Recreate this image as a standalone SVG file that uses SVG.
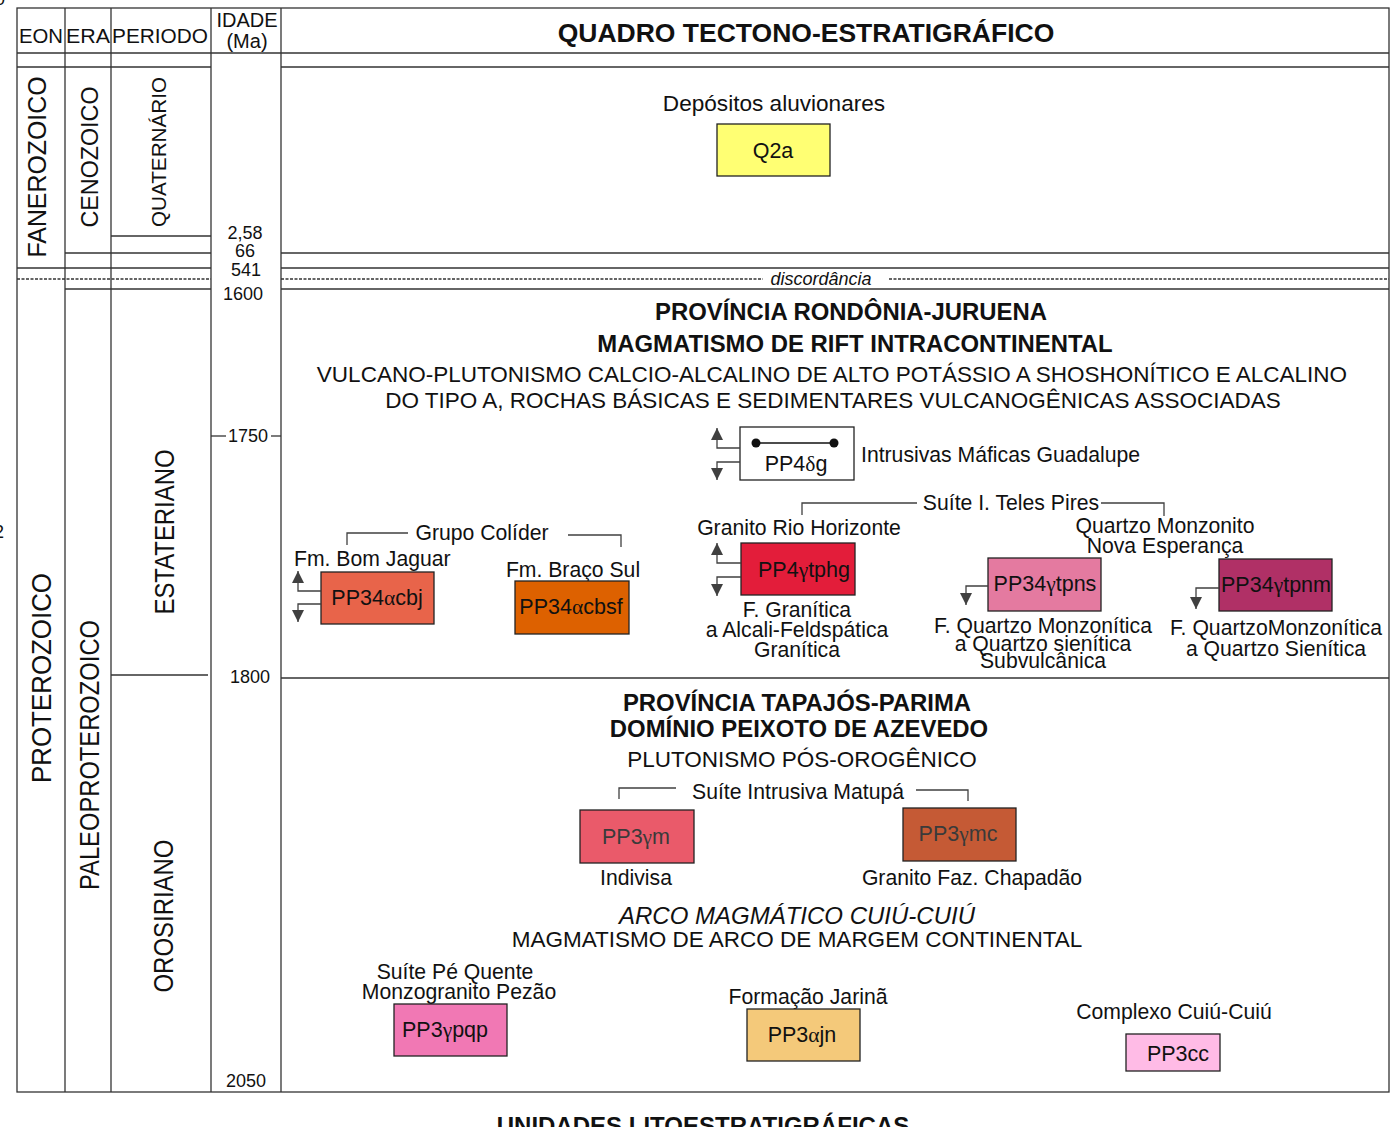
<svg xmlns="http://www.w3.org/2000/svg" width="1399" height="1127" viewBox="0 0 1399 1127">
<style>
text{font-family:"Liberation Sans",Arial,sans-serif;fill:#111;}
.t{font-size:21.2px;}
.c{font-size:22.5px;}
.b{font-size:23.9px;font-weight:bold;}
.age{font-size:18px;}
.hd{font-size:20px;}
.bx{font-size:21.5px;}
.m{text-anchor:middle;}
.g{font-family:"Liberation Serif","Times New Roman",serif;}
.ln{stroke:#333;stroke-width:1.3;fill:none;}
.dl{stroke:#333;stroke-width:1.3;fill:none;stroke-dasharray:3 1.5;}
.box{stroke:#222;stroke-width:1.3;}
.con{stroke:#404040;stroke-width:1.3;fill:none;}
</style>
<defs>
<marker id="ah" viewBox="0 0 10 10" refX="10" refY="5" markerUnits="userSpaceOnUse" markerWidth="12" markerHeight="12" orient="auto">
<path d="M0,0 L10,5 L0,10 z" fill="#404040"/>
</marker>
</defs>
<rect width="1399" height="1127" fill="#fff"/>

<!-- stray fragments -->
<text class="age" x="-5" y="5">0</text>
<text class="age" x="-6" y="538">2</text>

<!-- grid -->
<g id="grid">
<rect class="ln" x="17" y="8" width="1372" height="1084"/>
<line class="ln" x1="65" y1="8" x2="65" y2="1092"/>
<line class="ln" x1="111" y1="8" x2="111" y2="1092"/>
<line class="ln" x1="211" y1="8" x2="211" y2="1092"/>
<line class="ln" x1="281" y1="8" x2="281" y2="1092"/>
<line class="ln" x1="17" y1="53" x2="1389" y2="53"/>
<line class="ln" x1="17" y1="67" x2="211" y2="67"/>
<line class="ln" x1="281" y1="67" x2="1389" y2="67"/>
<line class="ln" x1="111" y1="236" x2="211" y2="236"/>
<line class="ln" x1="65" y1="253" x2="211" y2="253"/>
<line class="ln" x1="281" y1="253" x2="1389" y2="253"/>
<line class="ln" x1="17" y1="268" x2="211" y2="268"/>
<line class="ln" x1="281" y1="268" x2="1389" y2="268"/>
<line class="dl" x1="17" y1="279" x2="211" y2="279"/>
<line class="dl" x1="281" y1="279" x2="763" y2="279"/>
<line class="dl" x1="889" y1="279" x2="1389" y2="279"/>
<line class="ln" x1="65" y1="289" x2="211" y2="289"/>
<line class="ln" x1="281" y1="289" x2="1389" y2="289"/>
<line class="ln" x1="111" y1="675" x2="208" y2="675"/>
<line class="ln" x1="281" y1="678" x2="1389" y2="678"/>
<line class="ln" x1="211" y1="436" x2="226" y2="436"/>
<line class="ln" x1="271" y1="436" x2="281" y2="436"/>
</g>

<!-- header -->
<g id="header">
<text class="hd" x="19" y="43" textLength="44" lengthAdjust="spacingAndGlyphs">EON</text>
<text class="hd" x="66" y="43" textLength="44" lengthAdjust="spacingAndGlyphs">ERA</text>
<text class="hd" x="112" y="43" textLength="96" lengthAdjust="spacingAndGlyphs">PERIODO</text>
<text class="hd m" x="247" y="27">IDADE</text>
<text class="hd m" x="247" y="48">(Ma)</text>
<text class="m" x="806" y="42" style="font-size:26.5px;font-weight:bold">QUADRO TECTONO-ESTRATIGRÁFICO</text>
</g>

<!-- chronostratigraphic labels -->
<g id="chrono">
<text class="m" transform="rotate(-90 46 167)" x="46" y="167" style="font-size:25px" textLength="181" lengthAdjust="spacingAndGlyphs">FANEROZOICO</text>
<text class="m" transform="rotate(-90 98 157)" x="98" y="157" style="font-size:24px" textLength="141" lengthAdjust="spacingAndGlyphs">CENOZOICO</text>
<text class="m" transform="rotate(-90 166 152)" x="166" y="152" style="font-size:21px" textLength="150" lengthAdjust="spacingAndGlyphs">QUATERNÁRIO</text>
<text class="m" transform="rotate(-90 51 678)" x="51" y="678" style="font-size:28px" textLength="210" lengthAdjust="spacingAndGlyphs">PROTEROZOICO</text>
<text class="m" transform="rotate(-90 99 755)" x="99" y="755" style="font-size:27px" textLength="270" lengthAdjust="spacingAndGlyphs">PALEOPROTEROZOICO</text>
<text class="m" transform="rotate(-90 174 532)" x="174" y="532" style="font-size:27px" textLength="165" lengthAdjust="spacingAndGlyphs">ESTATERIANO</text>
<text class="m" transform="rotate(-90 173 916)" x="173" y="916" style="font-size:27px" textLength="153" lengthAdjust="spacingAndGlyphs">OROSIRIANO</text>
<text class="age m" x="245" y="239">2,58</text>
<text class="age m" x="245" y="257">66</text>
<text class="age m" x="246" y="276">541</text>
<text class="age m" x="243" y="300">1600</text>
<text class="age m" x="248" y="442">1750</text>
<text class="age m" x="250" y="683">1800</text>
<text class="age m" x="246" y="1087">2050</text>
<text class="m" x="821" y="285" style="font-size:18px;font-style:italic">discordância</text>
</g>

<!-- section headings -->
<g id="headings">
<text class="m" x="774" y="111" style="font-size:22.6px">Depósitos aluvionares</text>
<text class="b m" x="851" y="320">PROVÍNCIA RONDÔNIA-JURUENA</text>
<text class="b m" x="855" y="352">MAGMATISMO DE RIFT INTRACONTINENTAL</text>
<text class="c m" x="832" y="382">VULCANO-PLUTONISMO CALCIO-ALCALINO DE ALTO POTÁSSIO A SHOSHONÍTICO E ALCALINO</text>
<text class="c m" x="833" y="408">DO TIPO A, ROCHAS BÁSICAS E SEDIMENTARES VULCANOGÊNICAS ASSOCIADAS</text>
<text class="b m" x="797" y="711">PROVÍNCIA TAPAJÓS-PARIMA</text>
<text class="b m" x="799" y="737">DOMÍNIO PEIXOTO DE AZEVEDO</text>
<text class="c m" x="802" y="767">PLUTONISMO PÓS-OROGÊNICO</text>
<text class="m" x="797" y="924" style="font-size:24px;font-style:italic">ARCO MAGMÁTICO CUIÚ-CUIÚ</text>
<text class="c m" x="797" y="947">MAGMATISMO DE ARCO DE MARGEM CONTINENTAL</text>
<text class="t m" x="482" y="540">Grupo Colíder</text>
<text class="t m" x="1011" y="510">Suíte I. Teles Pires</text>
<text class="t m" x="798" y="799">Suíte Intrusiva Matupá</text>
<text class="m" x="703" y="1134" style="font-size:24px;font-weight:bold">UNIDADES LITOESTRATIGRÁFICAS</text>
</g>

<!-- nodes -->
<g id="Q2a">
<rect class="box" x="717" y="124" width="113" height="52" fill="#FFFF73"/>
<text class="bx m" x="773" y="158">Q2a</text>
</g>
<g id="PP4dg">
<rect class="box" x="740" y="427" width="114" height="53" fill="#fff"/>
<line x1="756" y1="443" x2="834" y2="443" stroke="#111" stroke-width="1.5"/>
<circle cx="756" cy="443" r="4.5" fill="#111"/>
<circle cx="834" cy="443" r="4.5" fill="#111"/>
<text class="bx m" x="796" y="471">PP4<tspan class="g">δ</tspan>g</text>
<text class="t" x="861" y="462">Intrusivas Máficas Guadalupe</text>
</g>
<g id="PP34acbj">
<text class="t" x="294" y="566">Fm. Bom Jaguar</text>
<rect class="box" x="321" y="572" width="113" height="52" fill="#E8644A"/>
<text class="bx m" x="377" y="605">PP34<tspan class="g">α</tspan>cbj</text>
</g>
<g id="PP34acbsf">
<text class="t m" x="573" y="577">Fm. Braço Sul</text>
<rect class="box" x="515" y="581" width="114" height="53" fill="#DD6100"/>
<text class="bx m" x="571" y="614">PP34<tspan class="g">α</tspan>cbsf</text>
</g>
<g id="PP4ytphg">
<text class="t m" x="799" y="535">Granito Rio Horizonte</text>
<rect class="box" x="741" y="543" width="114" height="52" fill="#E31D3A"/>
<text class="bx m" x="804" y="577">PP4<tspan class="g">γ</tspan>tphg</text>
<text class="t m" x="797" y="617">F. Granítica</text>
<text class="t m" x="797" y="637">a Alcali-Feldspática</text>
<text class="t m" x="797" y="657">Granítica</text>
</g>
<g id="PP34ytpns">
<rect class="box" x="988" y="558" width="113" height="53" fill="#E47AA0"/>
<text class="bx m" x="1045" y="591">PP34<tspan class="g">γ</tspan>tpns</text>
<text class="t m" x="1043" y="633">F. Quartzo Monzonítica</text>
<text class="t m" x="1043" y="651">a Quartzo sienítica</text>
<text class="t m" x="1043" y="668">Subvulcânica</text>
</g>
<g id="PP34ytpnm">
<text class="t m" x="1165" y="533">Quartzo Monzonito</text>
<text class="t m" x="1165" y="553">Nova Esperança</text>
<rect class="box" x="1219" y="559" width="113" height="52" fill="#B03066"/>
<text class="bx m" x="1276" y="592">PP34<tspan class="g">γ</tspan>tpnm</text>
<text class="t m" x="1276" y="635">F. QuartzoMonzonítica</text>
<text class="t m" x="1276" y="656">a Quartzo Sienítica</text>
</g>
<g id="PP3ym">
<rect class="box" x="580" y="810" width="114" height="53" fill="#EA5A6A"/>
<text class="bx m" x="636" y="844" style="fill:#3a3a3a">PP3<tspan class="g">γ</tspan>m</text>
<text class="t m" x="636" y="885">Indivisa</text>
</g>
<g id="PP3ymc">
<rect class="box" x="903" y="808" width="113" height="53" fill="#C55A35"/>
<text class="bx m" x="958" y="841" style="fill:#3a3a3a">PP3<tspan class="g">γ</tspan>mc</text>
<text class="t m" x="972" y="885">Granito Faz. Chapadão</text>
</g>
<g id="PP3ypqp">
<text class="t m" x="455" y="979">Suíte Pé Quente</text>
<text class="t m" x="459" y="999">Monzogranito Pezão</text>
<rect class="box" x="394" y="1004" width="113" height="52" fill="#F178B4"/>
<text class="bx" x="402" y="1037">PP3<tspan class="g">γ</tspan>pqp</text>
</g>
<g id="PP3ajn">
<text class="t m" x="808" y="1004">Formação Jarinã</text>
<rect class="box" x="747" y="1009" width="113" height="52" fill="#F4C97A"/>
<text class="bx m" x="802" y="1042">PP3<tspan class="g">α</tspan>jn</text>
</g>
<g id="PP3cc">
<text class="t m" x="1174" y="1019">Complexo Cuiú-Cuiú</text>
<rect class="box" x="1126" y="1034" width="94" height="37" fill="#FFBBE6"/>
<text class="bx m" x="1178" y="1061">PP3cc</text>
</g>

<!-- connectors -->
<g id="connectors">
<path class="con" d="M740,448 H717 V428" marker-end="url(#ah)"/>
<path class="con" d="M740,462 H717 V480" marker-end="url(#ah)"/>
<path class="con" d="M321,591 H298 V571" marker-end="url(#ah)"/>
<path class="con" d="M321,604 H298 V622" marker-end="url(#ah)"/>
<path class="con" d="M741,563 H717 V543" marker-end="url(#ah)"/>
<path class="con" d="M741,577 H717 V596" marker-end="url(#ah)"/>
<path class="con" d="M988,586 H966 V605" marker-end="url(#ah)"/>
<path class="con" d="M1219,588 H1196 V609" marker-end="url(#ah)"/>
<path class="con" d="M347,545 V533 H408"/>
<path class="con" d="M568,535 H621 V547"/>
<path class="con" d="M802,515 V503 H917"/>
<path class="con" d="M1101,503 H1164 V516"/>
<path class="con" d="M619,799 V788 H676"/>
<path class="con" d="M916,790 H968 V801"/>
</g>
</svg>
